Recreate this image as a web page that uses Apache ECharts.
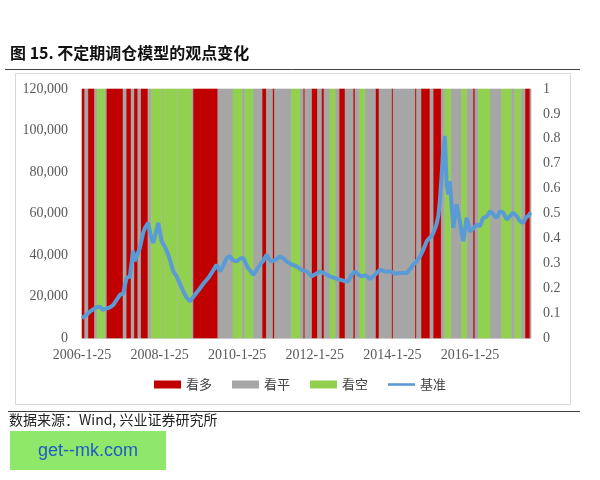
<!DOCTYPE html>
<html><head><meta charset="utf-8">
<script src="https://cdn.jsdelivr.net/npm/echarts@6/dist/echarts.min.js"></script>
<style>html,body{margin:0;padding:0;background:#fff}#c{width:600px;height:480px}</style>
</head><body><div id="c"></div>
<script>
const baseDate = '2006-01-25';
const endDate = '2017-08-22';
const tickLabels = ['2006-1-25','2008-1-25','2010-1-25','2012-1-25','2014-1-25','2016-1-25'];
const viewNames = ['看多','看平','看空'];
const benchName = '基准';

// view bands: each starts at a date and lasts until the next start
const bandStarts = ['2006-01-25','2006-02-20','2006-03-21','2006-05-23','2006-06-17','2006-08-26','2006-09-10',
 '2007-02-16','2007-03-16','2007-05-03','2007-05-28','2007-07-05','2007-07-30','2007-10-08','2007-11-08',
 '2008-02-27','2008-03-08','2008-07-02','2008-07-13','2008-11-19','2008-12-05',
 '2009-07-27','2009-12-16','2010-03-10','2010-04-08','2010-06-22','2010-09-16','2010-10-27','2010-12-23',
 '2011-01-11','2011-06-19','2011-09-08','2011-10-08','2011-10-24','2011-12-25',
 '2012-02-20','2012-03-28','2012-04-21','2012-06-16','2012-08-03','2012-09-10','2012-11-06',
 '2013-01-20','2013-02-08','2013-03-25','2013-05-11','2013-08-18','2013-09-21',
 '2014-01-17','2014-02-01','2014-08-25','2014-09-09','2014-10-21',
 '2015-01-14','2015-02-12','2015-05-01','2015-06-03','2015-07-29','2015-11-06','2015-12-23',
 '2016-02-23','2016-03-12','2016-04-14','2016-08-01','2016-11-18',
 '2017-02-16','2017-03-23','2017-05-19','2017-06-26','2017-08-12'];
const bandViews = ['看多','看平','看多','看平','看空','看平','看多',
 '看平','看多','看平','看多','看平','看多','看平','看空',
 '看平','看空','看平','看空','看平','看多',
 '看平','看空','看平','看空','看平','看多','看平','看多',
 '看平','看空','看平','看多','看平','看多',
 '看平','看多','看平','看空','看平','看多','看平',
 '看多','看平','看空','看平','看多','看平',
 '看多','看平','看多','看平','看多',
 '看平','看多','看平','看空','看平','看空','看平',
 '看多','看平','看空','看平','看空',
 '看平','看空','看平','看多','看平'];

// benchmark index
const benchDates = ['2006-01-25','2006-02-07','2006-03-05','2006-04-09','2006-05-10','2006-06-11','2006-07-12','2006-08-10','2006-09-14','2006-10-15','2006-11-16','2006-12-18',
 '2007-01-18','2007-02-18','2007-03-20','2007-04-21','2007-05-21','2007-06-05','2007-06-23','2007-07-24','2007-08-24','2007-09-10','2007-10-10','2007-11-05','2007-11-27','2007-12-22',
 '2008-01-13','2008-02-14','2008-03-15','2008-04-16','2008-05-02','2008-06-02','2008-07-04','2008-07-19','2008-08-14','2008-09-05','2008-10-05','2008-11-07','2008-11-26','2008-12-24',
 '2009-02-10','2009-03-17','2009-04-27','2009-06-06','2009-07-15','2009-08-16','2009-09-13','2009-10-18','2009-11-19','2009-12-16',
 '2010-01-20','2010-02-21','2010-03-22','2010-05-08','2010-06-25','2010-07-25','2010-08-27','2010-09-25','2010-10-29','2010-11-20','2010-12-16',
 '2011-01-25','2011-03-02','2011-04-03','2011-05-04','2011-06-19','2011-08-07','2011-09-22','2011-11-10','2011-12-27',
 '2012-02-02','2012-03-13','2012-04-30','2012-06-16','2012-08-03','2012-09-19','2012-10-26','2012-12-06',
 '2013-01-06','2013-02-08','2013-03-09','2013-04-10','2013-05-11','2013-06-12','2013-06-27','2013-08-14','2013-09-30','2013-11-16',
 '2014-01-03','2014-02-19','2014-04-06','2014-06-08','2014-07-08','2014-08-09','2014-09-11','2014-10-12','2014-11-12','2014-12-14',
 '2015-01-05','2015-01-30','2015-02-21','2015-03-16','2015-04-03','2015-04-17','2015-05-03','2015-05-18','2015-06-03','2015-06-19','2015-07-04','2015-07-20','2015-08-05','2015-08-21','2015-09-06','2015-09-22','2015-10-07','2015-10-23','2015-11-09','2015-11-24','2015-12-09','2015-12-25',
 '2016-01-10','2016-01-25','2016-02-23','2016-03-28','2016-04-28','2016-05-29','2016-06-30','2016-08-01','2016-09-02','2016-10-03','2016-11-04','2016-12-04',
 '2017-01-06','2017-02-06','2017-03-07','2017-04-09','2017-05-09','2017-06-10','2017-07-05','2017-07-26','2017-08-17'];
const benchValues = [9600,9800,11000,12700,13800,14800,15100,13600,14300,14800,16000,18500,
 20800,21600,28900,29700,42000,37000,36500,43400,50700,53100,55500,49000,45800,51000,
 55500,46600,44000,40200,37700,32100,29700,28900,25000,22400,19500,17600,19000,20800,
 24000,26500,28900,32000,35300,32100,34500,38600,39300,37500,
 36900,38200,38600,33700,30500,32500,35300,37000,40200,38000,36900,
 37800,39300,38500,36900,35500,34500,32800,32100,29700,
 30800,32100,31000,29700,28800,28100,27500,27200,
 30500,32100,30600,29700,30200,29500,28300,30500,32900,32100,
 32100,31000,31300,31300,33000,35300,37000,39300,42500,46600,
 48000,49000,51500,54700,59000,66000,78000,90200,97400,74000,69200,75600,65000,53100,58000,64400,60000,56300,50000,46600,52000,57900,
 55000,51400,52500,54700,53900,57900,58500,61100,59500,57900,61100,60400,
 57100,58700,60400,58700,56300,55500,58000,58700,60400];

function dayOf(s){
  const p = s.split('-').map(Number), b = baseDate.split('-').map(Number);
  return (Date.UTC(p[0],p[1]-1,p[2]) - Date.UTC(b[0],b[1]-1,b[2]))/86400000;
}
const endDay = dayOf(endDate);
const colors = {'看多':'#C00000','看平':'#A6A6A6','看空':'#92D050'};

function bandData(view){
  const out = [];
  for (let i=0;i<bandStarts.length;i++){
    if (bandViews[i] !== view) continue;
    const s = dayOf(bandStarts[i]);
    const e = i+1 < bandStarts.length ? dayOf(bandStarts[i+1]) : endDay;
    out.push([s, e, 1]);
  }
  return out;
}
function renderBand(params, api){
  const p0 = api.coord([api.value(0), 1]);
  const p1 = api.coord([api.value(1), 0]);
  const c = api.visual('color');
  return {type:'rect', shape:{x:p0[0], y:p0[1], width:p1[0]-p0[0], height:p1[1]-p0[1]},
    style:{fill:c, stroke:c, lineWidth:0.6}};
}

const serif = 'Liberation Serif';
const cjk = 'Noto Sans CJK SC';
const chart = echarts.init(document.getElementById('c'), null, {renderer:'canvas'});
const series = viewNames.map(v => ({
  name: v, type:'custom', coordinateSystem:'cartesian2d', xAxisIndex:0, yAxisIndex:1,
  renderItem: renderBand, itemStyle:{color:colors[v]}, encode:{x:[0,1], y:2},
  data: bandData(v), z:1, silent:true
}));
series.push({
  name: benchName, type:'line', yAxisIndex:0, symbol:'none', showSymbol:false, z:5,
  lineStyle:{width:4, color:'#5B9BD5'}, itemStyle:{color:'#5B9BD5'},
  data: benchDates.map((d,i)=>[dayOf(d), benchValues[i]])
});

chart.setOption({
  animation:false,
  backgroundColor:'#fff',
  grid:{left:82, right:69, top:89, bottom:142, containLabel:false},
  xAxis:{type:'value', min:0, max:endDay, interval:730.5,
    axisLine:{show:true, lineStyle:{color:'#D9D9D9'}}, axisTick:{show:false}, splitLine:{show:false},
    axisLabel:{showMaxLabel:false, margin:10, color:'#595959', fontFamily:serif, fontSize:14,
      formatter: v => tickLabels[Math.round(v/730.5)] || ''}},
  yAxis:[
    {type:'value', min:0, max:120000, interval:20000, position:'left',
     axisLine:{show:false}, axisTick:{show:false}, splitLine:{show:false},
     axisLabel:{margin:14, color:'#595959', fontFamily:serif, fontSize:14}},
    {type:'value', min:0, max:1, interval:0.1, position:'right',
     axisLine:{show:false}, axisTick:{show:false}, splitLine:{show:false},
     axisLabel:{margin:12, color:'#595959', fontFamily:serif, fontSize:14,
       formatter: v => String(+v.toFixed(1))}}
  ],
  legend:{top:373, left:'center', itemWidth:27, itemHeight:8, itemGap:20,
    textStyle:{fontFamily:cjk, fontSize:13, color:'#404040'},
    data:[{name:'看多', icon:'rect'},{name:'看平', icon:'rect'},{name:'看空', icon:'rect'},
          {name:benchName, icon:'path://M0,0H27V2.6H0Z'}]},
  graphic:[
    {type:'text', left:10, top:45, style:{text:'图 15. 不定期调仓模型的观点变化', font:'bold 16px "Noto Sans CJK SC"', fill:'#111'}},
    {type:'line', shape:{x1:5, y1:69.5, x2:580, y2:69.5}, style:{stroke:'#404040', lineWidth:1}},
    {type:'rect', shape:{x:15.5, y:73.5, width:555, height:331}, style:{fill:null, stroke:'#D9D9D9', lineWidth:1}, z:-1},
    {type:'line', shape:{x1:8, y1:411.5, x2:580, y2:411.5}, style:{stroke:'#404040', lineWidth:1}},
    {type:'text', left:9, top:413, style:{text:'数据来源：Wind, 兴业证券研究所', font:'14px "Noto Sans CJK SC"', fill:'#222'}},
    {type:'rect', shape:{x:10, y:431, width:156, height:39}, style:{fill:'#90E86A'}},
    {type:'text', x:88, y:451, style:{text:'get--mk.com', font:'18px "Liberation Sans"', fill:'#1F5BC6', align:'center', verticalAlign:'middle'}}
  ],
  series: series
});
</script></body></html>
